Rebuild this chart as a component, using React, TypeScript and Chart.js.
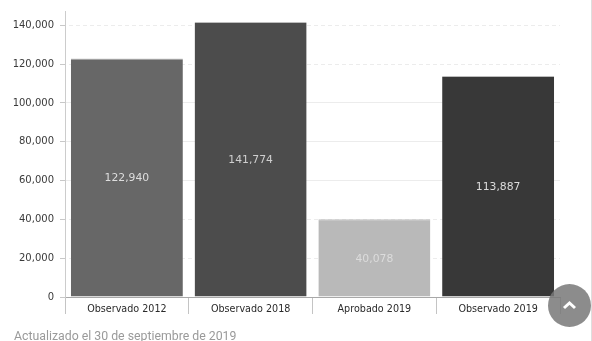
import React, { useEffect, useRef } from "react";
import { Chart, registerables } from "chart.js";

Chart.register(...registerables);

const categories = ["Observado 2012", "Observado 2018", "Aprobado 2019", "Observado 2019"];
const values = [122940, 141774, 40078, 113887];
const yTicks = [0, 20000, 40000, 60000, 80000, 100000, 120000, 140000];
const barColors = ["#676767", "#4c4c4c", "#b9b9b9", "#383838"];
const labelColors = ["#dedede", "#cfcfcf", "#dcdcdc", "#dcdcdc"];
const axisFont = "'DejaVu Sans', Verdana, sans-serif";

// Prints each bar's value in the middle of the bar.
const barValueLabels = {
  id: "barValueLabels",
  afterDatasetsDraw(chart: any) {
    const { ctx } = chart;
    const bars = chart.getDatasetMeta(0).data;
    ctx.save();
    ctx.font = `10.8px ${axisFont}`;
    ctx.textAlign = "center";
    ctx.textBaseline = "middle";
    bars.forEach((bar: any, i: number) => {
      ctx.fillStyle = labelColors[i];
      ctx.fillText(values[i].toLocaleString("en-US"), bar.x, (bar.y + bar.base) / 2 + 1);
    });
    ctx.restore();
  },
};

export default function App() {
  const canvasRef = useRef<HTMLCanvasElement>(null);

  useEffect(() => {
    const chart = new Chart(canvasRef.current!, {
      type: "bar",
      data: {
        labels: categories,
        datasets: [
          {
            data: values,
            backgroundColor: barColors,
            borderColor: "#bdbdbd",
            borderWidth: { top: 1, left: 0, right: 0, bottom: 0 },
            barPercentage: 0.905,
            categoryPercentage: 1,
          },
        ],
      },
      options: {
        responsive: false,
        animation: false,
        layout: { padding: { top: 11, right: 32, bottom: 24, left: 0 } },
        plugins: { legend: { display: false }, tooltip: { enabled: false } },
        scales: {
          x: {
            afterFit: (scale: any) => {
              scale.height = 20;
            },
            border: { color: "#a8a8a8", width: 1 },
            grid: {
              offset: true,
              drawOnChartArea: false,
              tickLength: 17,
              color: "#c4c4c4",
              tickColor: "#c4c4c4",
            },
            ticks: {
              color: "#2a2a2a",
              font: { family: axisFont, size: 9.6 },
              padding: -10,
              maxRotation: 0,
            },
          },
          y: {
            min: 0,
            max: 147400,
            afterFit: (scale: any) => {
              scale.width = 65;
              scale.paddingTop = 0;
              scale.paddingBottom = 0;
            },
            afterBuildTicks: (scale: any) => {
              scale.ticks = yTicks.map((value) => ({ value }));
            },
            border: { color: "#cccccc", width: 1 },
            grid: {
              color: "#ececec",
              tickColor: "#c8c8c8",
              tickLength: 5,
              tickBorderDash: [],
            },
            ticks: {
              color: "#3a3a3a",
              font: { family: axisFont, size: 10 },
              padding: 6,
              callback: (v: any) => Number(v).toLocaleString("en-US"),
            },
          },
        },
      },
      plugins: [
        barValueLabels,
        {
          // Breaks the horizontal grid lines into short dashes.
          id: "dashedGrid",
          beforeDatasetsDraw(c: any) {
            const { ctx, chartArea, scales } = c;
            ctx.save();
            ctx.strokeStyle = "#ffffff";
            ctx.lineWidth = 1;
            ctx.setLineDash([3, 4]);
            scales.y.ticks.forEach((t: any) => {
              if (t.value === 0) return;
              const y = Math.round(scales.y.getPixelForValue(t.value)) + 0.5;
              ctx.beginPath();
              ctx.moveTo(chartArea.left + 1, y);
              ctx.lineTo(chartArea.right, y);
              ctx.stroke();
            });
            ctx.restore();
          },
        },
      ],
    });
    return () => chart.destroy();
  }, []);

  return (
    <div style={{ position: "absolute", left: 0, top: 0, width: 592, height: 341, overflow: "hidden", background: "#fff" }}>
      <canvas ref={canvasRef} width={592} height={341} style={{ display: "block" }} />
      <div
        style={{
          position: "absolute",
          left: 14,
          top: 329,
          font: "12.3px Roboto, sans-serif",
          color: "#9a9a9a",
          whiteSpace: "nowrap",
        }}
      >
        Actualizado el 30 de septiembre de 2019
      </div>
      <div
        style={{
          position: "absolute",
          left: 548,
          top: 284,
          width: 43,
          height: 43,
          borderRadius: "50%",
          background: "rgba(120,120,120,0.85)",
        }}
      >
        <svg width="43" height="43" style={{ display: "block" }}>
          <path d="M16 24 L21.5 19 L27 24" fill="none" stroke="#fff" strokeWidth="3" />
        </svg>
      </div>
      <div style={{ position: "absolute", left: 591, top: 0, width: 1, height: 341, background: "#dedede" }} />
    </div>
  );
}
